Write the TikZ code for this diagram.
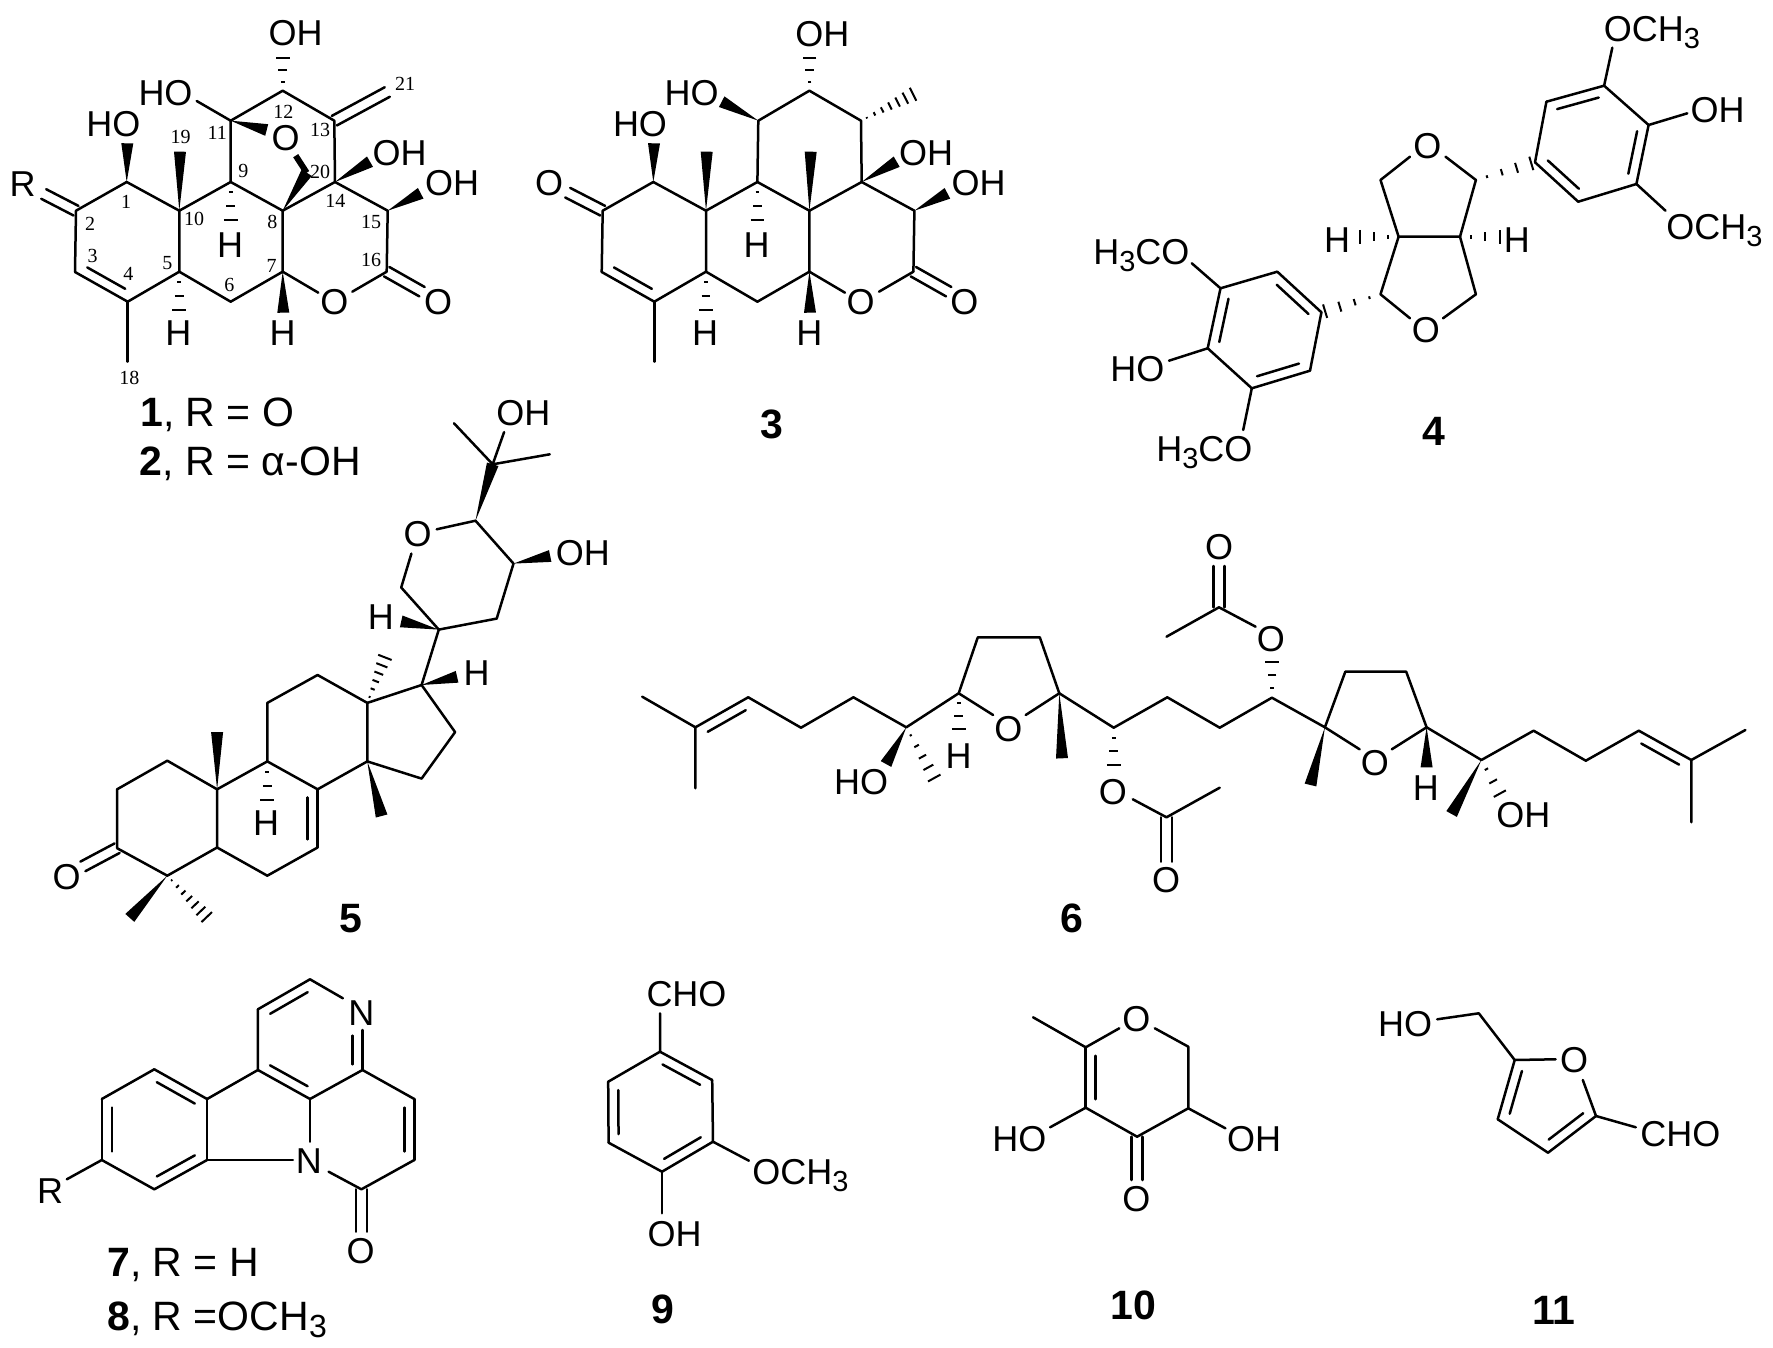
\documentclass[tikz,border=0pt]{standalone}
\usepackage{fontspec}
\setmainfont{Liberation Sans}
\newfontfamily\locantfont{Liberation Serif}
\usetikzlibrary{calc}

\tikzset{
  bond/.style={line width=1.25pt,line cap=round,line join=round},
  hashline/.style={line width=1pt},
  atomlabel/.style={inner sep=0pt,text height=12.9pt,text depth=0pt,font=\fontsize{18}{18}\selectfont},
  complabel/.style={inner sep=0pt,anchor=base west,font=\fontsize{20.5}{20.5}\selectfont},
  compnum/.style={inner sep=0pt,text height=14.5pt,text depth=0pt,font=\fontsize{20.5}{20.5}\selectfont\bfseries},
  locant/.style={inner sep=0pt,font=\fontsize{10}{10}\selectfont\locantfont}
}
\newcommand{\atoms}[1]{\foreach \n/\x/\y in {#1}{\coordinate (\n) at (\x,\y);}}
\newcommand{\wedgebond}[2]{\fill ($(#2)!3pt!90:(#1)$) -- (#1) -- ($(#2)!3pt!-90:(#1)$) -- cycle;}
\newcommand{\hashbond}[3][3]{\foreach \i in {1,...,#1}{%
  \pgfmathsetmacro{\hpos}{(\i-.25)/#1}\pgfmathsetmacro{\hwid}{3.75*\hpos}%
  \draw[hashline] ($(#2)!\hpos!(#3)!\hwid pt!90:(#3)$) -- ($(#2)!\hpos!(#3)!\hwid pt!-90:(#3)$);}}
\newcommand{\dblbond}[3][5pt]{\draw[bond] (#2) -- (#3);
  \draw[bond] ($(#2)!.14!(#3)!#1!-90:(#3)$) -- ($(#3)!.14!(#2)!#1!90:(#2)$);}
\newcommand{\eqbond}[2]{\draw[bond] ($(#1)!2.7pt!90:(#2)$) -- ($(#2)!2.7pt!-90:(#1)$);
  \draw[bond] ($(#1)!2.7pt!-90:(#2)$) -- ($(#2)!2.7pt!90:(#1)$);}
\newcommand{\subthree}{\raisebox{-3.5pt}{\fontsize{14.5}{14.5}\selectfont 3}}

\begin{document}
\begin{tikzpicture}[x=0.5pt,y=0.5pt,yscale=-1,xscale=1]
\useasboundingbox (0,0) rectangle (1773,1348);

% compound 1
\atoms{a1/126.7/182,a2/76/210.7,a3/75/272,a4/127.7/301.7,a5/179.3/271.7,a10/179.3/210.7,
  a9/230.7/182,a8/282.7/210.7,a7/282.7/271.7,a6/230.7/301.7,a14/335/182,a15/387.7/210.7,
  a16/386.7/271.7,a13/334.3/120.7,a12/282.7/90.7,a11/230.7/120.7,a21/387.3/92,
  a18/127.7/361.7,a19/180/151.7,a20/306.7/172.7,a20t/295.7/155.7,
  aRe/43.7/194,aOe/422/291.7,aOa/318.3/292.7,aOb/352.3/291.7,aHOa/127.3/143.3,aHOb/196.7/101,
  aOHa/282.7/55,aOw/266.7/130,aOHb/370/161.7,aOHc/420.7/193.3,aHa/230.7/224,aHb/179.3/313.3,aHc/283.3/312.7}
\draw[bond] (a1) -- (a2) -- (a3);
\dblbond{a3}{a4}
\draw[bond] (a4) -- (a5) -- (a10) -- (a1);
\draw[bond] (a10) -- (a9) -- (a8) -- (a7) -- (a6) -- (a5);
\draw[bond] (a8) -- (a14) -- (a15) -- (a16);
\draw[bond] (a14) -- (a13) -- (a12) -- (a11) -- (a9);
\draw[bond] (a4) -- (a18);
\draw[bond] (a7) -- (aOa);
\draw[bond] (a16) -- (aOb);
\draw[bond] (a11) -- (aHOb);
\eqbond{a2}{aRe}
\eqbond{a16}{aOe}
\eqbond{a13}{a21}
\wedgebond{a1}{aHOa}
\wedgebond{a10}{a19}
\wedgebond{a11}{aOw}
\wedgebond{a14}{aOHb}
\wedgebond{a15}{aOHc}
\wedgebond{a7}{aHc}
\wedgebond{a8}{a20}
\draw[line width=3pt] (a20) -- (a20t);
\hashbond{a12}{aOHa}
\hashbond{a9}{aHa}
\hashbond{a5}{aHb}
\node[atomlabel] (aR) at (22.7,183.3) {R};
\node[atomlabel] (aHO1) at (113.3,123.3) {HO};
\node[atomlabel] (aHO2) at (165.5,92.7) {HO};
\node[atomlabel] (aOH1) at (295.5,33) {OH};
\node[atomlabel] (aO1) at (285.7,137.3) {O};
\node[atomlabel] (aOH2) at (399.7,152.7) {OH};
\node[atomlabel] (aOH3) at (452,182.7) {OH};
\node[atomlabel] (aO2) at (334.3,301.7) {O};
\node[atomlabel] (aO3) at (438,302) {O};
\node[atomlabel] (aH1) at (230,244.3) {H};
\node[atomlabel] (aH2) at (178.3,332.7) {H};
\node[atomlabel] (aH3) at (282.7,332.7) {H};
\foreach \n/\x/\y in {1/126/201.7,2/90/224.3,3/92.7/256,4/128.3/274,5/167.3/263.3,6/229.3/285,
  7/271.7/265.7,8/272.3/221.7,9/243.3/171,10/194/219.3,11/217.3/132.7,12/283.3/111.7,13/320/130,
  14/335.3/201,15/371/221.7,16/371/260,18/129.3/377.7,19/180.7/137.3,20/320/171.7,21/405/84.3}
  \node[locant] (loc\n) at (\x,\y) {\n};
\node[complabel] (aname1) at (140,426.7) {\textbf{1}, R = O};
\node[complabel] (aname2) at (139.5,475) {\textbf{2}, R = α-OH};

% compound 3
\atoms{c1/653.3/182,c2/602.7/210.7,c3/601.7/272,c4/654.3/301.7,c5/706/271.7,c10/706/210.7,
  c9/757.4/182,c8/809.4/210.7,c7/809.4/271.7,c6/757.4/301.7,c14/861.7/182,c15/914.4/210.7,
  c16/913.4/271.7,c13/861/120.7,c12/809.4/90.7,c11/758.3/120.7,c18/654.3/361.7,
  cMa/706.7/151.7,cMb/810.7/151.7,cMc/915/93.3,cOe/567.7/192.7,cOf/948.7/291.7,
  cOa/845/292.7,cOb/879/291.7,cHOa/654/143.3,cHOb/721.7/101.7,cOHa/809.4/55,
  cOHb/896.7/161.7,cOHc/947.4/193.3,cHa/757.4/224,cHb/706/313.3,cHc/810/312.7}
\draw[bond] (c1) -- (c2) -- (c3);
\dblbond{c3}{c4}
\draw[bond] (c4) -- (c5) -- (c10) -- (c1);
\draw[bond] (c10) -- (c9) -- (c8) -- (c7) -- (c6) -- (c5);
\draw[bond] (c8) -- (c14) -- (c15) -- (c16);
\draw[bond] (c14) -- (c13) -- (c12) -- (c11) -- (c9);
\draw[bond] (c4) -- (c18);
\draw[bond] (c7) -- (cOa);
\draw[bond] (c16) -- (cOb);
\eqbond{c2}{cOe}
\eqbond{c16}{cOf}
\wedgebond{c1}{cHOa}
\wedgebond{c10}{cMa}
\wedgebond{c8}{cMb}
\wedgebond{c11}{cHOb}
\wedgebond{c14}{cOHb}
\wedgebond{c15}{cOHc}
\wedgebond{c7}{cHc}
\hashbond{c12}{cOHa}
\hashbond{c9}{cHa}
\hashbond{c5}{cHb}
\hashbond[7]{c13}{cMc}
\node[atomlabel] (cO1) at (549,182.7) {O};
\node[atomlabel] (cHO1) at (640,123.3) {HO};
\node[atomlabel] (cHO2) at (691.7,92.7) {HO};
\node[atomlabel] (cOH1) at (822.3,33.3) {OH};
\node[atomlabel] (cOH2) at (926,152.7) {OH};
\node[atomlabel] (cOH3) at (978.7,182.7) {OH};
\node[atomlabel] (cO2) at (860.7,301.7) {O};
\node[atomlabel] (cO3) at (964.3,302) {O};
\node[atomlabel] (cH1) at (756.7,244.3) {H};
\node[atomlabel] (cH2) at (705,332.7) {H};
\node[atomlabel] (cH3) at (809.3,332.7) {H};
\node[compnum] (cname) at (771.7,424) {3};

% compound 4
\atoms{dA/1380.5/180,dB/1475.9/180,dC/1398.6/236.7,dD/1460/236.7,dE/1380.5/294.3,dF/1475.9/294.3,
  dOa/1410/156.7,dOb/1445.5/156.7,dOc/1410/318.3,dOd/1443/318.3,dHa/1356.4/236.7,dHb/1503.2/236.7,
  r1/1535/162.3,r2/1546.4/101.7,r3/1604.1/85.7,r4/1648.6/125,r5/1636.4/184,r6/1578.2/201.7,
  l1/1321.4/312.3,l2/1277.3/271.7,l3/1220.5/288.3,l4/1207.7/348.3,l5/1251.8/388.3,l6/1310/370.7,
  rOa/1612.3/47.7,rOb/1687.3/113.3,rOc/1665.5/210.7,lOa/1191.8/263.3,lOb/1169/360.7,lOc/1243.2/430}
\draw[bond] (dOa) -- (dA) -- (dC) -- (dD) -- (dB) -- (dOb);
\draw[bond] (dOc) -- (dE) -- (dC);
\draw[bond] (dOd) -- (dF) -- (dD);
\hashbond{dC}{dHa}
\hashbond{dD}{dHb}
\hashbond[4]{dB}{r1}
\hashbond[4]{dE}{l1}
\dblbond[-5pt]{r2}{r3}
\dblbond[-5pt]{r4}{r5}
\dblbond[-5pt]{r6}{r1}
\draw[bond] (r1) -- (r2);
\draw[bond] (r3) -- (r4);
\draw[bond] (r5) -- (r6);
\dblbond{l1}{l2}
\dblbond{l3}{l4}
\dblbond{l5}{l6}
\draw[bond] (l2) -- (l3);
\draw[bond] (l4) -- (l5);
\draw[bond] (l6) -- (l1);
\draw[bond] (r3) -- (rOa);
\draw[bond] (r4) -- (rOb);
\draw[bond] (r5) -- (rOc);
\draw[bond] (l3) -- (lOa);
\draw[bond] (l4) -- (lOb);
\draw[bond] (l5) -- (lOc);
\node[atomlabel] (dO1) at (1427.3,145.7) {O};
\node[atomlabel] (dO2) at (1425.9,330) {O};
\node[atomlabel] (dH1) at (1337,239.3) {H};
\node[atomlabel] (dH2) at (1516.8,239.3) {H};
\node[atomlabel] (dOM1) at (1652,28.3) {OCH\subthree};
\node[atomlabel] (dOH) at (1717.7,110) {OH};
\node[atomlabel] (dOM2) at (1714.5,226.7) {OCH\subthree};
\node[atomlabel] (dOM3) at (1141.4,251.7) {H\subthree CO};
\node[atomlabel] (dHO) at (1137.3,368.3) {HO};
\node[atomlabel] (dOM4) at (1204.4,448.3) {H\subthree CO};
\node[compnum] (dname) at (1434,430.7) {4};

% compound 5
\atoms{e3/117.1/848.2,e2/117.1/789.3,e1/167.3/760.7,e10/217.1/789.3,e5/217.1/847.5,e4/167.3/875.7,
  e6/267.3/875.7,e7/317.6/847.5,e8/317.6/789.3,e9/267.3/761.4,e11/267.3/702.9,e12/317.6/675,
  e13/367.3/702.9,e14/367.3/761.4,e15/421.6/778.6,e16/455.1/732.1,e17/421.6/685,
  e20/438.8/629.6,e21/401.2/587.5,e23/475.5/520.7,e24/513.5/563.6,e25/496.7/618.6,
  e26/492.7/464.3,eMa/453.9/423.2,eMb/549.8/454.3,eOHa/504.1/432.1,eOHb/550.2/556,
  eOa/411.4/553.6,eOb/436.7/529.3,eHa/401.2/621.4,eHb/457.1/676.8,eHc/267.3/803.6,
  eMc/385.7/655.4,eMd/381.6/816,eMe/217.1/732.1,eMf/129.8/917.9,eMg/208.2/918.6,eOe/82.9/866.4}
\draw[bond] (e3) -- (e2) -- (e1) -- (e10) -- (e5) -- (e4) -- (e3);
\draw[bond] (e5) -- (e6) -- (e7);
\dblbond[-5pt]{e8}{e7}
\draw[bond] (e8) -- (e9) -- (e10);
\draw[bond] (e9) -- (e11) -- (e12) -- (e13) -- (e14) -- (e8);
\draw[bond] (e14) -- (e15) -- (e16) -- (e17) -- (e13);
\draw[bond] (e17) -- (e20) -- (e21) -- (eOa);
\draw[bond] (eOb) -- (e23) -- (e24) -- (e25) -- (e20);
\draw[bond] (eMa) -- (e26) -- (eMb);
\draw[bond] (e26) -- (eOHa);
\eqbond{e3}{eOe}
\wedgebond{e23}{e26}
\wedgebond{e24}{eOHb}
\wedgebond{e20}{eHa}
\wedgebond{e17}{eHb}
\wedgebond{e14}{eMd}
\wedgebond{e10}{eMe}
\wedgebond{e4}{eMf}
\hashbond[6]{e13}{eMc}
\hashbond{e9}{eHc}
\hashbond[7]{e4}{eMg}
\node[atomlabel] (eOH1) at (523.3,412.5) {OH};
\node[atomlabel] (eO1) at (417.6,533.9) {O};
\node[atomlabel] (eOH2) at (582.9,552.9) {OH};
\node[atomlabel] (eH1) at (380.8,616.8) {H};
\node[atomlabel] (eH2) at (476.7,672.1) {H};
\node[atomlabel] (eH3) at (266.1,822.5) {H};
\node[atomlabel] (eO2) at (66.5,876.8) {O};
\node[compnum] (ename) at (351,917.9) {5};

% compound 6
\atoms{f1/642.2/696.7,f2/695.4/727.3,f3/695.4/788.3,f4/748.2/697.3,f5/801/727.7,f6/853.4/697.3,
  f7/906.3/727.3,f8/958.7/693.3,f9/977.8/637.3,f10/1039.8/637.3,f11/1059.3/693.3,
  fOa/993.1/715,fOb/1025.7/715,fHOa/886/764,fMa/935.7/780.7,fHa/958.7/732.7,fMb/1062/758.3,
  f12/1113.7/727.7,fOc/1113.7/768.3,fOd/1132.8/799.3,f13/1166.5/817.3,fOe/1166.5/861.7,f14/1219.7/787.7,
  f15/1167.3/697.3,f16/1219.7/727.7,f17/1271.9/697.7,fOf/1271.9/658.3,fOg/1255.6/626.7,
  f18/1219/607.3,fOh/1219/566,f19/1166.5/636.7,f20/1324.9/727.3,f21/1345.3/671.7,f22/1406.2/671.7,
  f23/1426.6/727.3,fOi/1359.6/749.3,fOj/1391.8/749.3,fMc/1310.5/785,fHb/1426.6/767.3,
  f24/1481.4/760,fMd/1451.6/814,fOHa/1501.5/796.7,f25/1533.6/730.7,f26/1585.8/760.7,
  f27/1638.8/730.7,f28/1691.3/760,f29/1745.4/730,f30/1691.3/822.3}
\draw[bond] (f1) -- (f2) -- (f3);
\dblbond[-5pt]{f2}{f4}
\draw[bond] (f4) -- (f5) -- (f6) -- (f7) -- (f8) -- (f9) -- (f10) -- (f11) -- (f12) -- (f15) -- (f16) -- (f17) -- (f20);
\draw[bond] (f8) -- (fOa);
\draw[bond] (f11) -- (fOb);
\draw[bond] (fOd) -- (f13) -- (f14);
\eqbond{f13}{fOe}
\draw[bond] (fOg) -- (f18) -- (f19);
\eqbond{f18}{fOh}
\draw[bond] (f20) -- (f21) -- (f22) -- (f23) -- (f24) -- (f25) -- (f26) -- (f27);
\draw[bond] (f20) -- (fOi);
\draw[bond] (f23) -- (fOj);
\dblbond[-5pt]{f27}{f28}
\draw[bond] (f29) -- (f28) -- (f30);
\wedgebond{f7}{fHOa}
\wedgebond{f11}{fMb}
\wedgebond{f20}{fMc}
\wedgebond{f23}{fHb}
\wedgebond{f24}{fMd}
\hashbond[5]{f7}{fMa}
\hashbond{f8}{fHa}
\hashbond{f12}{fOc}
\hashbond{f17}{fOf}
\hashbond{f24}{fOHa}
\node[atomlabel] (fHO) at (861.1,781.7) {HO};
\node[atomlabel] (fH1) at (958.7,756) {H};
\node[atomlabel] (fO1) at (1008.4,728.3) {O};
\node[atomlabel] (fO2) at (1112.9,791.7) {O};
\node[atomlabel] (fO3) at (1166.1,880) {O};
\node[atomlabel] (fO4) at (1270.8,638.3) {O};
\node[atomlabel] (fO5) at (1219,546.7) {O};
\node[atomlabel] (fO6) at (1374.8,762.3) {O};
\node[atomlabel] (fH2) at (1425.8,787.3) {H};
\node[atomlabel] (fOH) at (1523.4,814.3) {OH};
\node[compnum] (fname) at (1071.6,918.3) {6};

% compounds 7 and 8
\atoms{b1/101.8/1160,b2/101.8/1099,b3/154.3/1069.3,b4/207.1/1099,b5/207.1/1160,b6/154.3/1189.3,
  g7/257.9/1070,g8/257.9/1009.3,g9/310/979.3,g11/362.5/1070,g12/310/1099,g13/414.3/1099,
  g14/414.3/1160,g15/361.4/1189.3,gR/66.8/1179.3,gNa/342.9/998.3,gNb/362.5/1030,
  gNc/292.9/1160,gNd/310/1141.7,gNe/328.6/1171.7,gOe/361.4/1231.7}
\dblbond[-5pt]{b1}{b2}
\draw[bond] (b2) -- (b3);
\dblbond[-5pt]{b3}{b4}
\draw[bond] (b4) -- (b5);
\dblbond[-5pt]{b5}{b6}
\draw[bond] (b6) -- (b1) -- (gR);
\draw[bond] (b4) -- (g7) -- (g8);
\dblbond[-5pt]{g8}{g9}
\draw[bond] (g9) -- (gNa);
\dblbond{g11}{gNb}
\dblbond{g7}{g12}
\draw[bond] (g12) -- (g11) -- (g13);
\dblbond[-5pt]{g13}{g14}
\draw[bond] (g14) -- (g15) -- (gNe);
\draw[bond] (b5) -- (gNc);
\draw[bond] (g12) -- (gNd);
\eqbond{g15}{gOe}
\node[atomlabel] (gR1) at (50,1190.7) {R};
\node[atomlabel] (gN1) at (361.4,1012.3) {N};
\node[atomlabel] (gN2) at (308.9,1160.7) {N};
\node[atomlabel] (gO1) at (360.7,1251) {O};
\node[complabel] (gname1) at (107,1276.7) {\textbf{7}, R = H};
\node[complabel] (gname2) at (107,1330.7) {\textbf{8}, R =OCH\raisebox{-3.5pt}{\fontsize{16}{16}\selectfont 3}};

% compound 9
\atoms{h1/660/1051.7,h2/712.2/1080,h3/713/1141.7,h4/662/1171.7,h5/608.6/1142.7,h6/608.2/1081.7,
  hCa/660/1013.3,hOa/748.9/1160.7,hOb/662/1213.3}
\dblbond[-5pt]{h1}{h2}
\draw[bond] (h2) -- (h3);
\dblbond[-5pt]{h3}{h4}
\draw[bond] (h4) -- (h5);
\dblbond[-5pt]{h5}{h6}
\draw[bond] (h6) -- (h1) -- (hCa);
\draw[bond] (h3) -- (hOa);
\draw[bond] (h4) -- (hOb);
\node[atomlabel] (hCHO) at (686.5,993.3) {CHO};
\node[atomlabel] (hOM) at (800.5,1171.7) {OCH\subthree};
\node[atomlabel] (hOH) at (674.6,1233.3) {OH};
\node[compnum] (hname) at (662.8,1309.3) {9};

% compound 10
\atoms{i1/1119.3/1028.3,i2/1085.7/1047.3,i3/1033.1/1017.3,i4/1085.7/1107.7,i5/1137.1/1136.7,
  i6/1188.3/1108.3,i7/1188.3/1046.7,i8/1154.8/1028.3,iOa/1050.1/1127.3,iOb/1137.1/1180,iOc/1225.4/1128.3}
\draw[bond] (i1) -- (i2) -- (i3);
\dblbond{i2}{i4}
\draw[bond] (iOa) -- (i4) -- (i5) -- (i6) -- (i7) -- (i8);
\draw[bond] (i6) -- (iOc);
\eqbond{i5}{iOb}
\node[atomlabel] (iO1) at (1136.3,1018.3) {O};
\node[atomlabel] (iHO) at (1019.3,1138.3) {HO};
\node[atomlabel] (iO2) at (1136.3,1198.3) {O};
\node[atomlabel] (iOH) at (1254.1,1138.3) {OH};
\node[compnum] (iname) at (1133.1,1305) {10};

% compound 11
\atoms{k0/1437.2/1019.3,k1/1478.8/1013.3,k2/1514.7/1060,k3/1497.7/1119.3,k4/1548/1152.7,k5/1596/1116,
  kOa/1555.6/1059.3,kOb/1582.8/1080,kCa/1635.8/1127.3}
\draw[bond] (k0) -- (k1) -- (k2) -- (kOa);
\dblbond{k2}{k3}
\draw[bond] (k3) -- (k4);
\dblbond{k4}{k5}
\draw[bond] (kOb) -- (k5) -- (kCa);
\node[atomlabel] (kHO) at (1405,1023.3) {HO};
\node[atomlabel] (kO1) at (1574.1,1060) {O};
\node[atomlabel] (kCHO) at (1680.4,1133.3) {CHO};
\node[compnum] (kname) at (1553.7,1310) {11};

\end{tikzpicture}
\end{document}
